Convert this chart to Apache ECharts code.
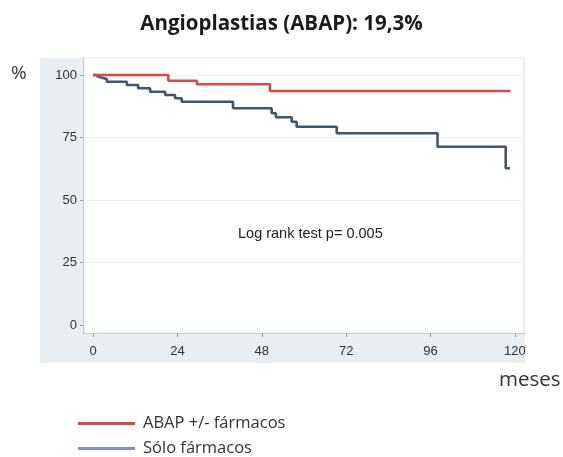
<!DOCTYPE html>
<html>
<head>
<meta charset="utf-8">
<script src="https://cdn.jsdelivr.net/npm/echarts@6/dist/echarts.min.js"></script>
<style>html,body{margin:0;padding:0;background:#fff}#c{width:563px;height:457px}</style>
</head>
<body>
<div id="c"></div>
<script>
// Kaplan-Meier step data: [months, %]
var abapSeries = [[0,100],[21.4,97.7],[29.5,96.3],[50.3,93.6],[118.8,93.6]];
var soloSeries = [[0,100],[0.8,99.2],[1.8,98.4],[3.9,97.3],[9.6,96],[12.8,94.7],[16.2,93.3],[20.5,92],[23.3,90.7],[25.2,89.3],[39.8,86.7],[50.8,84.7],[52,83.1],[56.5,81.3],[57.9,79.3],[69.3,76.7],[98,71.3],[117.4,62.7],[118.6,62.7]];
var xTicks = [0,24,48,72,96,120];
var yTicks = [0,25,50,75,100];
var seriesNames = ['ABAP +/- fármacos','Sólo fármacos'];
var titleText = 'Angioplastias (ABAP): 19,3%';
var noteText = 'Log rank test p= 0.005';

var chart = echarts.init(document.getElementById('c'));
var axisFont = 'Liberation Sans, Arial, sans-serif';
var legendText = {fontFamily: 'Open Sans, sans-serif', fontSize: 16.5, color: '#333', padding: [0, 0, 0, 3]};
chart.setOption({
  animation: false,
  title: {text: titleText, left: 'center', top: 9,
    textStyle: {fontFamily: 'Open Sans, sans-serif', fontWeight: 'bold', fontSize: 20.5, color: '#1a1a1a'}},
  graphic: {elements: [
    {type: 'rect', z: -10, silent: true, shape: {x: 40, y: 58, width: 485, height: 305}, style: {fill: '#e9eef3'}},
    {type: 'text', z: 100, left: 11, top: 64, style: {text: '%', font: '19px Open Sans, sans-serif', fill: '#333'}},
    {type: 'text', z: 100, left: 499, top: 370, style: {text: 'meses', font: '20.5px Open Sans, sans-serif', fill: '#333'}},
    {type: 'text', z: 100, left: 238, top: 226, style: {text: noteText, font: '14.5px Liberation Sans, Arial, sans-serif', fill: '#222'}}
  ]},
  grid: {left: 84, right: 39, top: 58, bottom: 124, show: true, backgroundColor: '#ffffff', borderColor: '#e3e8ec', borderWidth: 1, z: 1},
  legend: [
    {left: 73, top: 410, itemWidth: 57, itemHeight: 3, itemGap: 10, icon: 'rect', textStyle: legendText,
      data: [{name: seriesNames[0], itemStyle: {color: '#d9484a'}}]},
    {left: 73, top: 435, itemWidth: 57, itemHeight: 3, itemGap: 10, icon: 'rect', textStyle: legendText,
      data: [{name: seriesNames[1], itemStyle: {color: '#7194cc'}}]}
  ],
  xAxis: {
    type: 'value', min: -2.6, max: 122.6,
    axisLine: {show: true, onZero: false, lineStyle: {color: '#999da1', width: 1.5}},
    axisTick: {show: true, length: 4, customValues: xTicks, lineStyle: {color: '#999da1'}},
    axisLabel: {customValues: xTicks, margin: 12, color: '#333', fontFamily: axisFont, fontSize: 13},
    splitLine: {show: false}
  },
  yAxis: {
    type: 'value', min: -3.2, max: 106.8,
    axisLine: {show: true, onZero: false, lineStyle: {color: '#999da1', width: 1.5}},
    axisTick: {show: true, length: 4, customValues: yTicks, lineStyle: {color: '#999da1'}},
    axisLabel: {customValues: yTicks, margin: 7, color: '#333', fontFamily: axisFont, fontSize: 13},
    splitLine: {show: false}
  },
  series: [
    {
      name: 'grid', type: 'line', data: [], z: 1, silent: true,
      markLine: {silent: true, symbol: 'none', label: {show: false}, z: 1,
        lineStyle: {color: '#eef1f4', width: 1, type: 'solid'},
        data: yTicks.filter(function(v){return v > 0;}).map(function(v){return {yAxis: v};})}
    },
    {
      name: seriesNames[1], type: 'line', step: 'end', data: soloSeries, showSymbol: false, z: 3,
      lineStyle: {color: '#40566f', width: 2.6}, itemStyle: {color: '#40566f'}
    },
    {
      name: seriesNames[0], type: 'line', step: 'end', data: abapSeries, showSymbol: false, z: 4,
      lineStyle: {color: '#d9484a', width: 2.6}, itemStyle: {color: '#d9484a'}
    }
  ]
});
</script>
</body>
</html>
